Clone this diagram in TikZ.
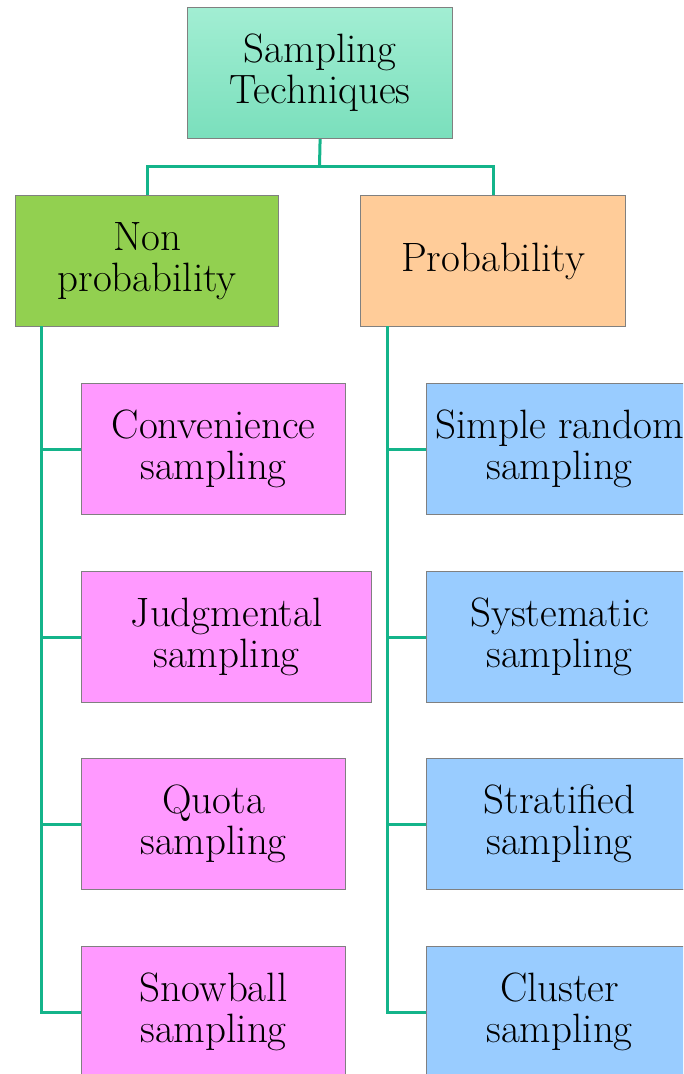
\documentclass[tikz,border=0pt]{standalone}
\definecolor{conncol}{HTML}{14B48A}
\definecolor{bordcol}{HTML}{808080}
\definecolor{greenbox}{HTML}{92D050}
\definecolor{peach}{HTML}{FFCC99}
\definecolor{pinkbox}{HTML}{FF99FF}
\definecolor{bluebox}{HTML}{99CCFF}
\definecolor{toptop}{HTML}{A2EED3}
\definecolor{topbot}{HTML}{7ADFBC}
\tikzset{
  box/.style={draw=bordcol, line width=1.2pt, anchor=north west, align=center,
    minimum height=131pt, inner sep=0pt, font=\fontsize{41}{41}\selectfont},
  conn/.style={draw=conncol, line width=3pt}
}
\begin{document}
\begin{tikzpicture}[x=1pt,y=-1pt]
\useasboundingbox (0,0) rectangle (683,1074);
\clip (0,0) rectangle (683,1074);
\node[box, minimum width=265pt, top color=toptop, bottom color=topbot] (top) at (187,7) {Sampling\\Techniques};
\node[box, minimum width=263pt, fill=greenbox] (np) at (15,195) {Non\\probability};
\node[box, minimum width=265pt, fill=peach] (pr) at (360,195) {Probability};
\node[box, minimum width=264pt, fill=pinkbox] (l1) at (81,383) {Convenience\\sampling};
\node[box, minimum width=290pt, fill=pinkbox] (l2) at (81,571) {Judgmental\\sampling};
\node[box, minimum width=264pt, fill=pinkbox] (l3) at (81,758) {Quota\\sampling};
\node[box, minimum width=264pt, fill=pinkbox] (l4) at (81,946) {Snowball\\sampling};
\node[box, minimum width=266pt, fill=bluebox] (r1) at (426,383) {Simple random\\sampling};
\node[box, minimum width=266pt, fill=bluebox] (r2) at (426,571) {Systematic\\sampling};
\node[box, minimum width=266pt, fill=bluebox] (r3) at (426,758) {Stratified\\sampling};
\node[box, minimum width=266pt, fill=bluebox] (r4) at (426,946) {Cluster\\sampling};
\coordinate (mid) at (319.5,166);
\draw[conn] (top.south) -- (mid);
\draw[conn] (np.north) |- (mid) -| (pr.north);
\coordinate (tl) at (41,326);
\coordinate (tr) at (387,326);
\draw[conn] (tl) |- (l4.west);
\draw[conn] (tl |- l1.west) -- (l1.west);
\draw[conn] (tl |- l2.west) -- (l2.west);
\draw[conn] (tl |- l3.west) -- (l3.west);
\draw[conn] (tr) |- (r4.west);
\draw[conn] (tr |- r1.west) -- (r1.west);
\draw[conn] (tr |- r2.west) -- (r2.west);
\draw[conn] (tr |- r3.west) -- (r3.west);
\end{tikzpicture}
\end{document}
